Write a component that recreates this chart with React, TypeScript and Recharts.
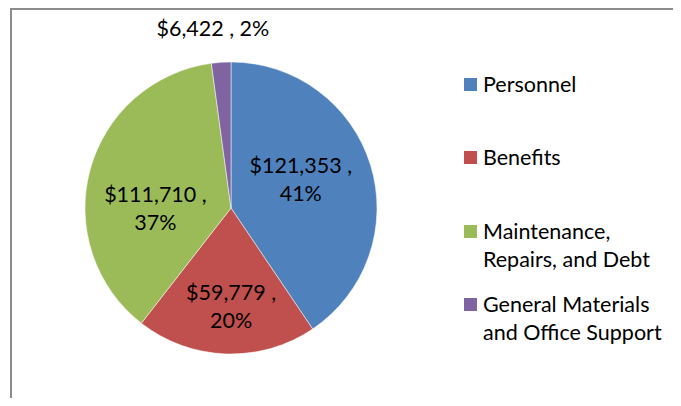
import { PieChart, Pie, Cell, Legend } from "recharts";

const categories = [
  "Personnel",
  "Benefits",
  "Maintenance, Repairs, and Debt",
  "General Materials and Office Support",
];
const amounts = [121353, 59779, 111710, 6422];
const legendLines = [
  ["Personnel"],
  ["Benefits"],
  ["Maintenance,", "Repairs, and Debt"],
  ["General Materials", "and Office Support"],
];

const colors = ["#4F81BD", "#C0504D", "#9BBB59", "#8064A2"];
const FONT = "Lato, 'Open Sans', sans-serif";
const FS = 21.5;
const RADIAN = Math.PI / 180;

// small nudges so the labels sit like Excel's best-fit placement
const labelNudge = [
  [-14, -3],
  [3, 10],
  [9, 23],
  [-6, 0],
];
// first-line centre of each legend row
const legendRowY = [84, 157, 231, 304];
const LEGEND_TOP = 60;

const data = categories.map((name, i) => ({ name, value: amounts[i] }));

const money = (v: number) => "$" + v.toLocaleString("en-US");

function renderLabel(props: any) {
  const { cx, cy, midAngle, outerRadius, percent, value, index } = props;
  const pct = Math.round(percent * 100) + "%";
  const [nx, ny] = labelNudge[index];
  if (percent < 0.05) {
    const r = outerRadius + 34;
    const x = cx + r * Math.cos(-midAngle * RADIAN) + nx;
    const y = cy + r * Math.sin(-midAngle * RADIAN) + ny;
    return (
      <text x={x} y={y} textAnchor="middle" dominantBaseline="central" fontFamily={FONT} fontSize={FS} fill="#000">
        {money(value)} , {pct}
      </text>
    );
  }
  const r = outerRadius * 0.6;
  const x = cx + r * Math.cos(-midAngle * RADIAN) + nx;
  const y = cy + r * Math.sin(-midAngle * RADIAN) + ny;
  return (
    <text textAnchor="middle" dominantBaseline="central" fontFamily={FONT} fontSize={FS} fill="#000">
      <tspan x={x} y={y - 14}>{money(value)} ,</tspan>
      <tspan x={x} y={y + 14}>{pct}</tspan>
    </text>
  );
}

function LegendBox(props: any) {
  const { payload } = props;
  return (
    <div style={{ position: "relative", width: 215, height: 300, fontFamily: FONT, fontSize: FS, color: "#000" }}>
      {payload.map((entry: any) => {
        const i = categories.indexOf(entry.value);
        return (
          <div key={entry.value} style={{ position: "absolute", left: 0, top: legendRowY[i] - 14 - LEGEND_TOP, lineHeight: "28px" }}>
            <div style={{ position: "absolute", left: 0, top: 8, width: 13, height: 13, background: colors[i] }} />
            <div style={{ marginLeft: 19, whiteSpace: "nowrap" }}>
              {legendLines[i].map((l, j) => (
                <div key={j}>{l}</div>
              ))}
            </div>
          </div>
        );
      })}
    </div>
  );
}

export default function App() {
  return (
    <div style={{ position: "relative", width: 681, height: 406, margin: -8, overflow: "hidden", background: "#fff" }}>
      <div
        style={{
          position: "absolute",
          left: 10,
          top: 8,
          width: 700,
          height: 500,
          border: "2px solid #8c8c8c",
        }}
      />
      <div style={{ position: "absolute", left: 0, top: 0 }}>
        <PieChart width={681} height={406} margin={{ top: 0, right: 0, bottom: 0, left: 0 }}>
          <Pie
            data={data}
            dataKey="value"
            nameKey="name"
            cx={231}
            cy={208}
            outerRadius={146}
            startAngle={90}
            endAngle={-270}
            stroke="#fff"
            strokeWidth={0.5}
            label={renderLabel}
            labelLine={false}
            isAnimationActive={false}
          >
            {data.map((d, i) => (
              <Cell key={d.name} fill={colors[i]} />
            ))}
          </Pie>
          <Legend
            layout="vertical"
            align="right"
            verticalAlign="top"
            content={<LegendBox />}
            wrapperStyle={{ left: 464, top: LEGEND_TOP, width: 215 }}
          />
        </PieChart>
      </div>
    </div>
  );
}
